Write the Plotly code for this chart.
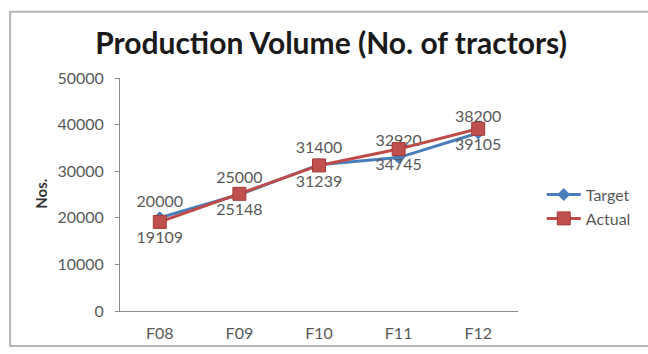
import plotly.graph_objects as go

categories = ["F08", "F09", "F10", "F11", "F12"]
target = [20000, 25000, 31400, 32920, 38200]
actual = [19109, 25148, 31239, 34745, 39105]
y_ticks = [0, 10000, 20000, 30000, 40000, 50000]

W, H = 648, 354
L, R, T, B = 120, 126, 78, 37
pw = W - L - R
ph = H - T - B

def px_x(p):
    return (p - L) / pw

def px_y(p):
    return (H - B - p) / ph

font_fam = "Lato, 'Open Sans', sans-serif"
gray = "#595959"

fig = go.Figure()
fig.add_trace(go.Scatter(
    x=categories, y=target, name="Target", mode="lines+markers+text",
    line=dict(color="#4A7EBB", width=3),
    marker=dict(symbol="diamond", size=10, color="#4A7EBB"),
    text=[str(v) for v in target], textposition="top center",
    textfont=dict(family=font_fam, size=16, color=gray),
))
fig.add_trace(go.Scatter(
    x=categories, y=actual, name="Actual", mode="lines+markers+text",
    line=dict(color="#BE4B48", width=3),
    marker=dict(symbol="square", size=13, color="#C0504D",
                line=dict(color="#A33C39", width=1)),
    text=[str(v) for v in actual], textposition="bottom center",
    textfont=dict(family=font_fam, size=16, color=gray),
))

fig.update_layout(
    width=W, height=H,
    margin=dict(l=L, r=R, t=T, b=B),
    paper_bgcolor="white", plot_bgcolor="white",
    font=dict(family=font_fam, size=16, color=gray),
    title=dict(text="<b>Production Volume (No. of tractors)</b>",
               x=331 / W, xanchor="center", y=1 - 43 / H, yanchor="middle",
               font=dict(family=font_fam, size=30, color="#1a1a1a")),
    legend=dict(x=px_x(546), xanchor="left", y=px_y(210), yanchor="middle",
                font=dict(family=font_fam, size=16, color=gray),
                bgcolor="rgba(0,0,0,0)", itemwidth=34, tracegroupgap=4),
    showlegend=True,
)
fig.update_xaxes(
    range=[-0.5, 4.5], autorange=False,
    showgrid=False, showline=True, linecolor="#8C8C8C", linewidth=1,
    ticks="", tickfont=dict(family=font_fam, size=16, color=gray),
    ticklabelstandoff=8, zeroline=False,
)
fig.update_yaxes(
    range=[0, 50000], tickvals=y_ticks, ticktext=[str(v) for v in y_ticks],
    showgrid=False, showline=True, linecolor="#8C8C8C", linewidth=1,
    ticks="outside", ticklen=4, tickcolor="#8C8C8C",
    tickfont=dict(family=font_fam, size=16, color=gray),
    ticklabelstandoff=8, zeroline=False,
)
fig.add_annotation(
    text="<b>Nos.</b>", textangle=-90, x=px_x(40), y=px_y(197),
    xref="paper", yref="paper", showarrow=False, xanchor="center",
    font=dict(family=font_fam, size=15, color="#333333"),
)
fig.add_shape(
    type="rect", xref="paper", yref="paper",
    x0=px_x(9), x1=px_x(660), y0=px_y(353), y1=px_y(10),
    line=dict(color="#B5B5B5", width=2), fillcolor="rgba(0,0,0,0)", layer="below",
)

fig.write_html("out.html")
